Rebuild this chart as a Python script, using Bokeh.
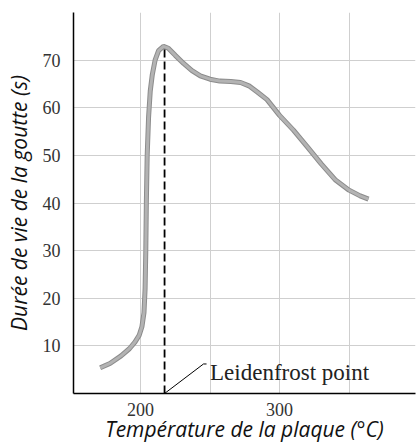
from bokeh.plotting import figure
from bokeh.models import FixedTicker, Range1d, Label
from bokeh.embed import file_html
from bokeh.resources import INLINE

# Data
temperature = [171, 178, 186, 192, 196, 199, 201, 202.5, 203.3, 203.8, 204.2, 204.8, 205.8,
               207, 208.5, 210.5, 213, 216.5, 220, 225, 231, 237, 243, 250, 257, 265, 272,
               278, 284, 291, 300, 310, 320, 330, 340, 350, 358, 364]
lifetime = [5.4, 6.3, 7.9, 9.4, 10.8, 12.2, 14, 17, 22, 30, 40, 50, 58,
            63.5, 67, 70, 72, 72.9, 72.5, 71, 69.3, 67.8, 66.7, 66, 65.6, 65.5, 65.3,
            64.6, 63.3, 61.7, 58.4, 55.3, 51.8, 48.2, 44.9, 42.7, 41.5, 40.8]
leidenfrost_t = 217.3
leidenfrost_peak = 73
x_ticks = [200, 300]
x_grid = [200, 250, 300, 350]
y_ticks = [10, 20, 30, 40, 50, 60, 70]
y_grid = [10, 20, 30, 40, 50, 60, 70, 80]

SERIF = "Liberation Serif"
SANS = "Open Sans"

p = figure(width=416, height=445, output_backend="svg", toolbar_location=None,
           x_range=Range1d(151.8, 397.8), y_range=Range1d(0, 80))
p.min_border_left = 73
p.min_border_top = 12
p.min_border_right = 1
p.min_border_bottom = 40
p.outline_line_color = None
p.background_fill_color = "white"

# grid
p.xgrid.ticker = FixedTicker(ticks=x_grid)
p.ygrid.ticker = FixedTicker(ticks=y_grid)
p.xgrid.grid_line_color = "#cfcfcf"
p.ygrid.grid_line_color = "#cfcfcf"
p.xgrid.grid_line_width = 1
p.ygrid.grid_line_width = 1

# axes
p.xaxis.ticker = FixedTicker(ticks=x_ticks)
p.yaxis.ticker = FixedTicker(ticks=y_ticks)
for ax in (p.xaxis[0], p.yaxis[0]):
    ax.axis_line_color = "black"
    ax.axis_line_width = 1.5
    ax.major_tick_line_color = None
    ax.minor_tick_line_color = None
    ax.major_label_text_font = SERIF
    ax.major_label_text_font_size = "18px"
    ax.major_label_text_color = "#333333"
    ax.axis_label_text_font = SANS
    ax.axis_label_text_font_style = "italic"
    ax.axis_label_text_font_size = "21px"
    ax.axis_label_text_color = "#111111"
p.xaxis.major_label_standoff = 3
p.yaxis.major_label_standoff = 7
p.xaxis.axis_label = "Température de la plaque (°C)"
p.yaxis.axis_label = "Durée de vie de la goutte (s)"
p.xaxis.axis_label_standoff = -4
p.yaxis.axis_label_standoff = 7

# curve
p.line(temperature, lifetime, line_color="#8c8c8c", line_width=5)
p.line(temperature, lifetime, line_color="#b3b3b3", line_width=3)

# Leidenfrost dashed line
p.line([leidenfrost_t, leidenfrost_t], [0, leidenfrost_peak], line_color="black",
       line_width=1.8, line_dash="8 4")

# annotation leader
p.line([leidenfrost_t, 245.3, 247.5], [0, 6.2, 6.2], line_color="black", line_width=1)
p.add_layout(Label(x=250, y=4.4, text="Leidenfrost point", text_font=SERIF,
                   text_font_size="23px", text_color="#222222",
                   text_baseline="alphabetic"))

open("out.html", "w").write(file_html(p, INLINE))
